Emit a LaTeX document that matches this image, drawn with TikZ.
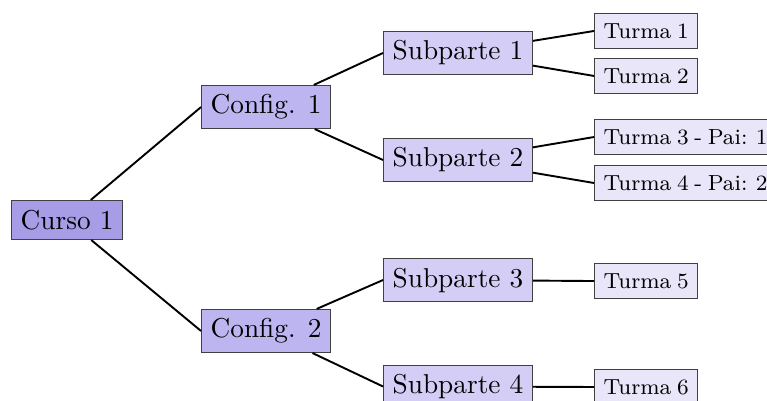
\documentclass[tikz,border=0pt]{standalone}
\usetikzlibrary{positioning}
\definecolor{CursoFill}{HTML}{A69DE6}
\definecolor{CfgFill}{HTML}{BDB5EF}
\definecolor{SubFill}{HTML}{D4CEF6}
\definecolor{TurFill}{HTML}{E9E6FA}
\definecolor{BoxLine}{HTML}{404040}
\newcommand{\turfont}{\footnotesize\spaceskip=2.1pt plus 1pt\relax}

\begin{document}
\begin{tikzpicture}[
  box/.style={draw=BoxLine,line width=0.4pt,anchor=west,inner sep=3.33pt},
  cur/.style={box,fill=CursoFill,minimum height=14.3pt},
  cfg/.style={box,fill=CfgFill},
  sub/.style={box,fill=SubFill},
  tur/.style={box,fill=TurFill,font=\turfont,minimum height=12.8pt},
  e/.style={line width=0.7pt}]
  \useasboundingbox (0,0) rectangle (9.874,-5.162);
  \clip (0,0) rectangle (9.874,-5.162);

  \node[cur] (c) at (0.142,-2.832) {Curso 1};

  \node[cfg] (cf1) at (2.588,-1.378) {Config. 1};
  \node[cfg] (cf2) at (2.588,-4.261) {Config. 2};

  \node[sub] (s1) at (4.931,-0.682) {Subparte 1};
  \node[sub] (s2) at (4.931,-2.060) {Subparte 2};
  \node[sub] (s3) at (4.931,-3.605) {Subparte 3};
  \node[sub] (s4) at (4.931,-4.976) {Subparte 4};

  \node[tur] (t1) at (7.647,-0.399) {Turma 1};
  \node[tur] (t2) at (7.647,-0.978) {Turma 2};
  \node[tur] (t3) at (7.647,-1.764) {Turma 3 - Pai: 1};
  \node[tur] (t4) at (7.647,-2.356) {Turma 4 - Pai: 2};
  \node[tur] (t5) at (7.647,-3.618) {Turma 5};
  \node[tur] (t6) at (7.647,-4.982) {Turma 6};

  % edges end on the west side of each child
  \draw[e] (c) -- (cf1.west) (c) -- (cf2.west);
  \draw[e] (cf1) -- (s1.west) (cf1) -- (s2.west);
  \draw[e] (cf2) -- (s3.west) (cf2) -- (s4.west);
  \draw[e] (s1) -- (t1.west) (s1) -- (t2.west);
  \draw[e] (s2) -- (t3.west) (s2) -- (t4.west);
  \draw[e] (s3) -- (t5.west);
  \draw[e] (s4) -- (t6.west);
\end{tikzpicture}
\end{document}
